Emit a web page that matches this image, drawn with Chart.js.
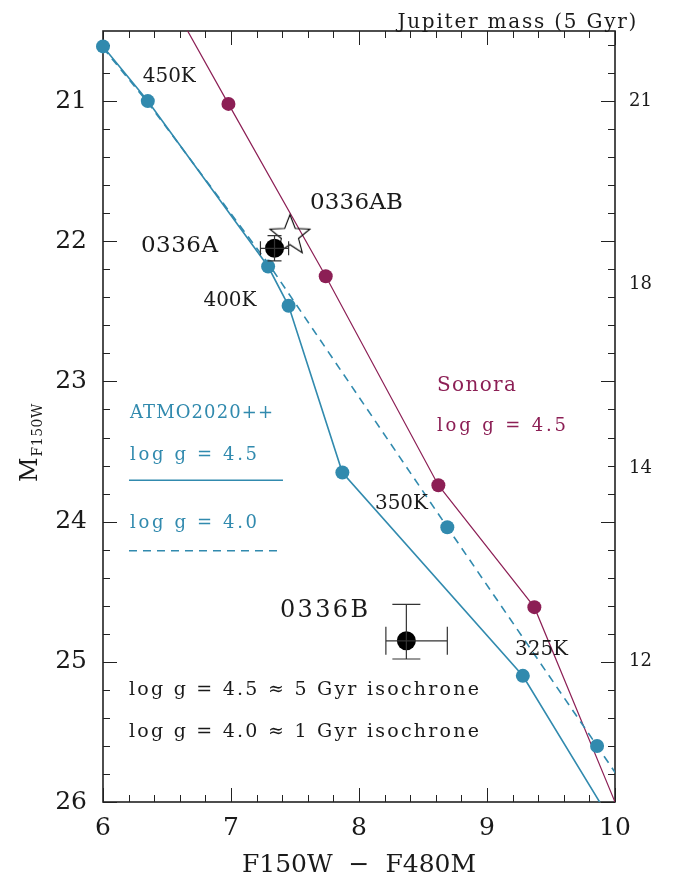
<!DOCTYPE html>
<html>
<head>
<meta charset="utf-8">
<script src="https://cdn.jsdelivr.net/npm/chart.js@4.4.1/dist/chart.umd.min.js"></script>
<style>
  html, body { margin: 0; padding: 0; background: #fff; }
</style>
</head>
<body>
<canvas id="cmd" width="689" height="880"></canvas>
<script>
// ATMO2020++ log g = 4.5 (solid) track
const atmoSolidX = [6.00, 6.35, 7.29, 7.45, 7.87, 9.28, 10.08];
const atmoSolidY = [20.61, 21.00, 22.18, 22.46, 23.65, 25.10, 26.30];
// ATMO2020++ log g = 4.0 (dashed) track
const atmoDashX = [6.00, 6.35, 7.30, 8.69, 9.86, 10.12];
const atmoDashY = [20.62, 21.01, 22.17, 24.04, 25.60, 25.95];
// Sonora log g = 4.5 track
const sonoraX = [6.60, 6.98, 7.74, 8.62, 9.37, 10.05];
const sonoraY = [20.40, 21.02, 22.25, 23.74, 24.61, 26.11];
// model grid points
const atmoDotX = [6.00, 6.35, 7.29, 7.45, 7.87, 8.69, 9.28, 9.86];
const atmoDotY = [20.61, 21.00, 22.18, 22.46, 23.65, 24.04, 25.10, 25.60];
const sonoraDotX = [6.98, 7.74, 8.62, 9.37];
const sonoraDotY = [21.02, 22.25, 23.74, 24.61];
// measured components
const objNames = ['0336A', '0336B'];
const objX = [7.34, 8.37];
const objY = [22.05, 24.85];
const objXErrLo = [0.11, 0.16];
const objXErrHi = [0.11, 0.32];
const objYErrLo = [0.09, 0.26];
const objYErrHi = [0.09, 0.13];
// unresolved AB
const abX = [7.46];
const abY = [21.96];
// axes
const xTicks = [6, 7, 8, 9, 10];
const yTicks = [21, 22, 23, 24, 25, 26];
const massTickMag = [21.0, 22.31, 23.62, 25.0];
const massTickLabel = ['21', '18', '14', '12'];

const BLUE = '#318aae';
const MAROON = '#8c1f55';
const INK = '#1a1a1a';
const FONT = 'DejaVu Serif';

Chart.defaults.font.family = FONT;

function pts(xs, ys) {
    return xs.map((x, i) => ({ x: x, y: ys[i] }));
}

// open five-point star marker
function starMarker(rOut, rIn) {
    const c = document.createElement('canvas');
    const s = Math.ceil(rOut * 2 + 4);
    c.width = s; c.height = s;
    const g = c.getContext('2d');
    g.translate(s / 2, s / 2);
    g.beginPath();
    for (let i = 0; i < 10; i++) {
        const r = i % 2 ? rIn : rOut;
        const a = -Math.PI / 2 + i * Math.PI / 5;
        g.lineTo(r * Math.cos(a), r * Math.sin(a));
    }
    g.closePath();
    g.strokeStyle = '#000';
    g.lineWidth = 1.1;
    g.stroke();
    return c;
}

// text with spacing stretched to a given width
function spaced(ctx, text, x, y, size, width, color) {
    ctx.save();
    ctx.font = size + 'px "' + FONT + '"';
    ctx.fillStyle = color;
    ctx.textBaseline = 'alphabetic';
    ctx.textAlign = 'left';
    ctx.letterSpacing = '0px';
    const w0 = ctx.measureText(text).width;
    const n = text.length - 1;
    const ls = n > 0 ? (width - w0) / n : 0;
    ctx.letterSpacing = ls + 'px';
    ctx.fillText(text, x, y);
    ctx.restore();
}

const framePlugin = {
    id: 'frame',
    beforeDatasetsDraw(chart) {
        const { ctx, chartArea: a, scales } = chart;
        const xs = scales.x, ys = scales.y;
        ctx.save();
        ctx.strokeStyle = '#222';
        ctx.lineWidth = 1;
        ctx.beginPath();
        for (let k = 0; k <= 20; k++) {
            const v = 6 + k * 0.2;
            const px = Math.round(xs.getPixelForValue(v)) + 0.5;
            const len = k % 5 === 0 ? 14 : 7;
            ctx.moveTo(px, a.bottom); ctx.lineTo(px, a.bottom - len);
            ctx.moveTo(px, a.top); ctx.lineTo(px, a.top + len);
        }
        for (let k = 0; k <= 27; k++) {
            const v = 20.6 + k * 0.2;
            const py = Math.round(ys.getPixelForValue(v)) + 0.5;
            const major = Math.abs(v - Math.round(v)) < 1e-6;
            const len = major ? 14 : 7;
            ctx.moveTo(a.left, py); ctx.lineTo(a.left + len, py);
            ctx.moveTo(a.right, py); ctx.lineTo(a.right - len, py);
        }
        ctx.stroke();
        ctx.lineWidth = 1.6;
        ctx.strokeRect(a.left, a.top, a.right - a.left, a.bottom - a.top);
        ctx.restore();
    },
    afterDatasetsDraw(chart) {
        const { ctx, scales } = chart;
        const xs = scales.x, ys = scales.y;
        const X = v => xs.getPixelForValue(v);
        const Y = v => ys.getPixelForValue(v);

        // error bars
        const caps = [7, 14];
        ctx.save();
        ctx.strokeStyle = '#333';
        ctx.lineWidth = 1.2;
        objX.forEach((x, i) => {
            const cx = X(x), cy = Y(objY[i]);
            const l = X(x - objXErrLo[i]), r = X(x + objXErrHi[i]);
            const t = Y(objY[i] - objYErrLo[i]), b = Y(objY[i] + objYErrHi[i]);
            const c = caps[i];
            ctx.beginPath();
            ctx.moveTo(l, cy); ctx.lineTo(r, cy);
            ctx.moveTo(l, cy - c); ctx.lineTo(l, cy + c);
            ctx.moveTo(r, cy - c); ctx.lineTo(r, cy + c);
            ctx.moveTo(cx, t); ctx.lineTo(cx, b);
            ctx.moveTo(cx - c, t); ctx.lineTo(cx + c, t);
            ctx.moveTo(cx - c, b); ctx.lineTo(cx + c, b);
            ctx.stroke();
        });
        ctx.restore();

        // annotations
        spaced(ctx, 'Jupiter mass (5 Gyr)', X(8.30), Y(20.48), 20, 239, INK);
        spaced(ctx, '450K', X(6.311), Y(20.865), 20, 53, INK);
        spaced(ctx, '400K', X(6.785), Y(22.465), 20, 53, INK);
        spaced(ctx, '350K', X(8.125), Y(23.909), 20, 53, INK);
        spaced(ctx, '325K', X(9.219), Y(24.954), 20, 53, INK);
        spaced(ctx, objNames[0], X(6.297), Y(22.074), 23, 77, INK);
        spaced(ctx, '0336AB', X(7.617), Y(21.768), 23, 93, INK);
        spaced(ctx, objNames[1], X(7.383), Y(24.68), 24, 88, INK);

        spaced(ctx, 'ATMO2020++', X(6.211), Y(23.262), 18, 143, BLUE);
        spaced(ctx, 'log g = 4.5', X(6.211), Y(23.560), 18, 127, BLUE);
        spaced(ctx, 'log g = 4.0', X(6.211), Y(24.044), 18, 127, BLUE);
        spaced(ctx, 'Sonora', X(8.609), Y(23.07), 20, 79, MAROON);
        spaced(ctx, 'log g = 4.5', X(8.609), Y(23.354), 18, 129, MAROON);
        spaced(ctx, 'log g = 4.5 \u2248 5 Gyr isochrone', X(6.203), Y(25.239), 19, 350, INK);
        spaced(ctx, 'log g = 4.0 \u2248 1 Gyr isochrone', X(6.203), Y(25.538), 19, 350, INK);

        // legend line samples
        ctx.save();
        ctx.strokeStyle = BLUE;
        ctx.lineWidth = 1.6;
        ctx.beginPath();
        ctx.moveTo(X(6.203), Y(23.705)); ctx.lineTo(X(7.406), Y(23.705));
        ctx.stroke();
        ctx.setLineDash([8, 6]);
        ctx.beginPath();
        ctx.moveTo(X(6.203), Y(24.208)); ctx.lineTo(X(7.406), Y(24.208));
        ctx.stroke();
        ctx.restore();

        // y title M_F150W
        ctx.save();
        ctx.translate(37, 482);
        ctx.rotate(-Math.PI / 2);
        ctx.fillStyle = INK;
        ctx.textBaseline = 'alphabetic';
        ctx.font = '24px "' + FONT + '"';
        ctx.fillText('M', 0, 0);
        const mw = ctx.measureText('M').width;
        ctx.font = '14px "' + FONT + '"';
        ctx.letterSpacing = '0.5px';
        ctx.fillText('F150W', mw + 1, 5);
        ctx.restore();
    }
};

new Chart(document.getElementById('cmd'), {
    type: 'scatter',
    data: {
        datasets: [
            {
                data: pts(objX, objY),
                pointRadius: 9.5,
                backgroundColor: '#000',
                borderWidth: 0,
                clip: false,
                order: 1
            },
            {
                data: pts(abX, abY),
                pointStyle: starMarker(21, 9),
                pointRadius: 21,
                clip: false,
                order: 2
            },
            {
                data: pts(atmoDotX, atmoDotY),
                pointRadius: 7,
                backgroundColor: BLUE,
                borderWidth: 0,
                clip: false,
                order: 3
            },
            {
                data: pts(sonoraDotX, sonoraDotY),
                pointRadius: 7,
                backgroundColor: MAROON,
                borderWidth: 0,
                clip: false,
                order: 3
            },
            {
                data: pts(atmoSolidX, atmoSolidY),
                showLine: true,
                pointRadius: 0,
                borderColor: BLUE,
                borderWidth: 1.6,
                order: 5
            },
            {
                data: pts(atmoDashX, atmoDashY),
                showLine: true,
                pointRadius: 0,
                borderColor: BLUE,
                borderWidth: 1.6,
                borderDash: [8, 6],
                order: 5
            },
            {
                data: pts(sonoraX, sonoraY),
                showLine: true,
                pointRadius: 0,
                borderColor: MAROON,
                borderWidth: 1.2,
                order: 5
            }
        ]
    },
    options: {
        responsive: false,
        animation: false,
        devicePixelRatio: 1,
        layout: { padding: { top: 30, left: 0, right: 0, bottom: 0 } },
        plugins: {
            legend: { display: false },
            tooltip: { enabled: false }
        },
        scales: {
            x: {
                type: 'linear',
                position: 'bottom',
                min: 6,
                max: 10,
                grid: { display: false, drawTicks: false },
                border: { display: false },
                afterBuildTicks: s => { s.ticks = xTicks.map(v => ({ value: v })); },
                afterFit: s => { s.height = 78; },
                ticks: {
                    font: { size: 25 },
                    color: INK,
                    padding: 11,
                    maxRotation: 0,
                    autoSkip: false,
                    callback: v => String(v)
                },
                title: {
                    display: true,
                    text: 'F150W  \u2212  F480M',
                    font: { size: 25 },
                    color: INK,
                    padding: { top: 0, bottom: 0 }
                }
            },
            y: {
                type: 'linear',
                position: 'left',
                reverse: true,
                min: 20.5,
                max: 26,
                grid: { display: false, drawTicks: false },
                border: { display: false },
                afterBuildTicks: s => { s.ticks = yTicks.map(v => ({ value: v })); },
                afterFit: s => { s.width = 103; },
                ticks: {
                    font: { size: 25 },
                    color: INK,
                    padding: 16,
                    autoSkip: false,
                    callback: v => String(v)
                }
            },
            y2: {
                type: 'linear',
                position: 'right',
                reverse: true,
                min: 20.5,
                max: 26,
                grid: { display: false, drawTicks: false },
                border: { display: false },
                afterBuildTicks: s => { s.ticks = massTickMag.map(v => ({ value: v })); },
                afterFit: s => { s.width = 74; },
                ticks: {
                    font: { size: 18 },
                    color: INK,
                    padding: 14,
                    autoSkip: false,
                    callback: (v, i) => massTickLabel[i]
                }
            }
        }
    },
    plugins: [framePlugin]
});
</script>
</body>
</html>
